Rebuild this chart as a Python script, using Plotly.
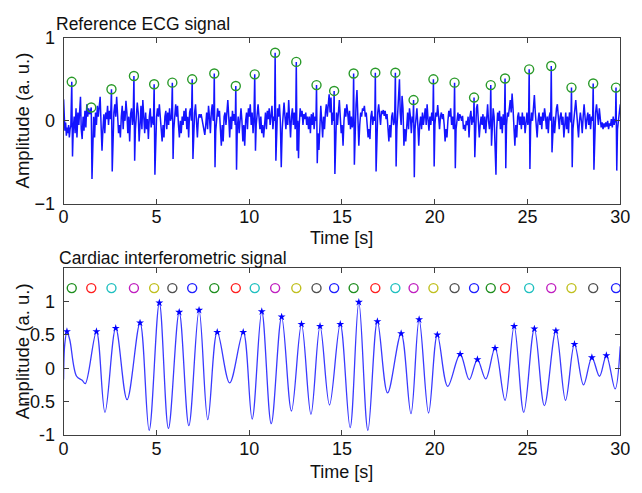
import plotly.graph_objects as go

# ---------------- data ----------------
# ECG R-peak times (s) and amplitudes (a.u.)
peak_time = [0.44, 1.49, 2.58, 3.79, 4.88, 5.86, 6.93, 8.12, 9.28, 10.30, 11.40, 12.54, 13.63,
             14.58, 15.63, 16.80, 17.88, 18.86, 19.93, 21.07, 22.12, 23.02, 23.79, 25.09,
             26.28, 27.37, 28.54, 29.77]
peak_amp = [0.47, 0.16, 0.38, 0.54, 0.44, 0.46, 0.50, 0.57, 0.42, 0.56, 0.82, 0.71, 0.43,
            0.36, 0.57, 0.58, 0.58, 0.25, 0.50, 0.46, 0.28, 0.43, 0.51, 0.62,
            0.66, 0.40, 0.45, 0.40]

# ECG trace, one row per beat segment
ecg_time_seg = [
    [0.00, 0.03, 0.07, 0.11, 0.15, 0.19, 0.23, 0.27, 0.31, 0.35, 0.39],
    [0.44, 0.48, 0.52, 0.57, 0.62, 0.67, 0.72, 0.77, 0.82, 0.87, 0.91, 0.95, 1.00, 1.05, 1.10, 1.15, 1.20, 1.25, 1.30, 1.35, 1.40, 1.45],
    [1.49, 1.53, 1.57, 1.62, 1.67, 1.72, 1.77, 1.82, 1.87, 1.92, 1.97, 2.02, 2.07, 2.12, 2.17, 2.22, 2.27, 2.32, 2.37, 2.42, 2.47, 2.53],
    [2.58, 2.62, 2.66, 2.71, 2.76, 2.81, 2.86, 2.91, 2.96, 3.01, 3.06, 3.11, 3.16, 3.21, 3.26, 3.31, 3.36, 3.41, 3.46, 3.51, 3.56, 3.61, 3.66, 3.71, 3.75],
    [3.79, 3.83, 3.87, 3.92, 3.97, 4.02, 4.07, 4.12, 4.17, 4.22, 4.27, 4.32, 4.37, 4.42, 4.47, 4.52, 4.57, 4.62, 4.67, 4.72, 4.77, 4.84],
    [4.88, 4.92, 4.96, 5.01, 5.06, 5.11, 5.16, 5.21, 5.26, 5.31, 5.36, 5.41, 5.46, 5.51, 5.56, 5.61, 5.66, 5.71, 5.76, 5.82],
    [5.86, 5.90, 5.94, 5.99, 6.04, 6.09, 6.14, 6.19, 6.24, 6.29, 6.34, 6.39, 6.44, 6.49, 6.54, 6.59, 6.64, 6.69, 6.74, 6.79, 6.84, 6.89],
    [6.93, 6.97, 7.01, 7.06, 7.11, 7.16, 7.21, 7.26, 7.31, 7.36, 7.41, 7.46, 7.51, 7.56, 7.61, 7.66, 7.71, 7.76, 7.81, 7.86, 7.91, 7.96, 8.01, 8.06, 8.09],
    [8.12, 8.16, 8.20, 8.25, 8.30, 8.35, 8.40, 8.45, 8.50, 8.55, 8.60, 8.65, 8.70, 8.75, 8.80, 8.85, 8.90, 8.95, 9.00, 9.05, 9.10, 9.15, 9.20, 9.25],
    [9.28, 9.32, 9.36, 9.41, 9.46, 9.51, 9.56, 9.61, 9.66, 9.71, 9.76, 9.81, 9.86, 9.91, 9.96, 10.01, 10.06, 10.11, 10.16, 10.21, 10.26],
    [10.30, 10.34, 10.38, 10.43, 10.48, 10.53, 10.58, 10.63, 10.68, 10.73, 10.78, 10.83, 10.88, 10.93, 10.98, 11.03, 11.08, 11.13, 11.18, 11.23, 11.28, 11.33, 11.37],
    [11.40, 11.44, 11.48, 11.53, 11.58, 11.63, 11.68, 11.73, 11.78, 11.83, 11.88, 11.93, 11.98, 12.03, 12.08, 12.13, 12.18, 12.23, 12.28, 12.33, 12.38, 12.43, 12.48, 12.51],
    [12.54, 12.58, 12.62, 12.66, 12.70, 12.75, 12.80, 12.85, 12.90, 12.95, 13.00, 13.05, 13.10, 13.15, 13.20, 13.25, 13.30, 13.35, 13.40, 13.45, 13.50, 13.55, 13.60],
    [13.63, 13.67, 13.71, 13.76, 13.81, 13.86, 13.91, 13.96, 14.01, 14.06, 14.11, 14.16, 14.21, 14.26, 14.31, 14.36, 14.41, 14.46, 14.51, 14.55],
    [14.58, 14.62, 14.66, 14.71, 14.76, 14.81, 14.86, 14.91, 14.96, 15.01, 15.06, 15.11, 15.16, 15.21, 15.26, 15.31, 15.36, 15.41, 15.46, 15.51, 15.56, 15.60],
    [15.63, 15.67, 15.71, 15.76, 15.81, 15.86, 15.91, 15.96, 16.01, 16.06, 16.11, 16.16, 16.21, 16.26, 16.31, 16.36, 16.41, 16.46, 16.51, 16.56, 16.61, 16.66, 16.71, 16.77],
    [16.80, 16.84, 16.88, 16.93, 16.98, 17.03, 17.08, 17.13, 17.18, 17.23, 17.28, 17.33, 17.38, 17.43, 17.48, 17.53, 17.58, 17.63, 17.68, 17.73, 17.78, 17.84],
    [17.88, 17.92, 17.96, 18.01, 18.06, 18.10, 18.14, 18.19, 18.24, 18.29, 18.34, 18.39, 18.44, 18.49, 18.54, 18.59, 18.64, 18.69, 18.74, 18.79, 18.83],
    [18.86, 18.90, 18.94, 18.99, 19.04, 19.09, 19.14, 19.19, 19.24, 19.29, 19.34, 19.39, 19.44, 19.49, 19.54, 19.59, 19.64, 19.69, 19.74, 19.79, 19.84, 19.90],
    [19.93, 19.97, 20.01, 20.06, 20.11, 20.16, 20.21, 20.26, 20.31, 20.36, 20.41, 20.46, 20.51, 20.56, 20.61, 20.66, 20.71, 20.76, 20.81, 20.86, 20.91, 20.96, 21.01, 21.04],
    [21.07, 21.11, 21.15, 21.20, 21.25, 21.30, 21.35, 21.40, 21.45, 21.50, 21.55, 21.60, 21.65, 21.70, 21.75, 21.80, 21.85, 21.90, 21.95, 22.00, 22.05, 22.09],
    [22.12, 22.16, 22.20, 22.25, 22.30, 22.35, 22.40, 22.45, 22.50, 22.55, 22.60, 22.65, 22.70, 22.75, 22.80, 22.85, 22.90, 22.95, 22.99],
    [23.02, 23.06, 23.10, 23.15, 23.20, 23.25, 23.30, 23.34, 23.39, 23.44, 23.49, 23.54, 23.59, 23.64, 23.69, 23.73, 23.76],
    [23.79, 23.83, 23.87, 23.92, 23.97, 24.02, 24.07, 24.12, 24.17, 24.22, 24.27, 24.32, 24.37, 24.42, 24.47, 24.52, 24.57, 24.62, 24.67, 24.72, 24.77, 24.82, 24.87, 24.92, 24.97, 25.02, 25.06],
    [25.09, 25.13, 25.17, 25.22, 25.27, 25.32, 25.37, 25.42, 25.47, 25.52, 25.57, 25.62, 25.67, 25.72, 25.77, 25.82, 25.87, 25.92, 25.97, 26.02, 26.07, 26.12, 26.17, 26.22, 26.25],
    [26.28, 26.32, 26.36, 26.41, 26.46, 26.51, 26.56, 26.61, 26.66, 26.71, 26.76, 26.81, 26.86, 26.91, 26.96, 27.01, 27.06, 27.11, 27.16, 27.21, 27.26, 27.31, 27.34],
    [27.37, 27.41, 27.45, 27.50, 27.55, 27.60, 27.65, 27.70, 27.75, 27.80, 27.85, 27.90, 27.95, 28.00, 28.05, 28.10, 28.15, 28.20, 28.25, 28.30, 28.35, 28.40, 28.45, 28.51],
    [28.54, 28.58, 28.62, 28.67, 28.72, 28.77, 28.82, 28.87, 28.92, 28.97, 29.02, 29.07, 29.12, 29.17, 29.22, 29.27, 29.32, 29.37, 29.42, 29.47, 29.52, 29.57, 29.62, 29.67, 29.71, 29.74],
    [29.77, 29.81, 29.85, 29.90, 29.95, 30.00],
]
ecg_amp_seg = [
    [0.26, -0.05, -0.12, -0.02, -0.18, -0.08, -0.15, -0.05, -0.20, -0.10, -0.06],
    [0.47, -0.43, -0.10, 0.05, -0.15, 0.15, -0.20, 0.10, -0.05, 0.22, 0.29, -0.10, -0.22, 0.05, -0.12, 0.12, -0.08, 0.20, 0.05, 0.15, 0.08, 0.12],
    [0.16, -0.70, -0.15, 0.05, -0.20, 0.10, -0.05, 0.18, 0.05, 0.22, 0.29, -0.05, -0.36, -0.10, 0.08, -0.15, 0.10, 0.02, 0.18, -0.05, 0.12, 0.02],
    [0.38, -0.61, -0.10, 0.10, 0.20, 0.05, 0.29, 0.10, -0.15, -0.05, -0.20, 0.05, 0.18, -0.10, 0.12, 0.00, 0.24, 0.10, -0.15, 0.05, -0.25, 0.08, 0.15, -0.05, 0.05],
    [0.54, -0.48, -0.10, 0.05, 0.22, 0.10, -0.25, -0.05, 0.18, -0.10, 0.25, 0.05, -0.15, 0.10, -0.10, 0.02, -0.22, 0.05, 0.15, -0.08, 0.05, -0.05],
    [0.44, -0.65, -0.15, 0.05, 0.15, 0.05, 0.20, 0.08, -0.10, -0.25, -0.05, -0.20, 0.05, 0.12, -0.10, 0.10, -0.05, 0.15, 0.00, 0.05],
    [0.46, -0.46, -0.10, 0.08, 0.20, 0.05, 0.18, -0.05, -0.20, 0.00, -0.15, 0.05, -0.05, 0.12, 0.00, 0.15, -0.10, 0.05, -0.20, 0.10, 0.15, 0.00],
    [0.50, -0.46, -0.10, 0.10, 0.20, 0.05, -0.20, 0.02, 0.08, 0.04, 0.08, 0.02, -0.05, -0.15, -0.17, -0.05, 0.10, -0.10, 0.18, 0.05, -0.15, 0.10, 0.20, 0.00, 0.05],
    [0.57, -0.56, -0.12, 0.05, 0.15, 0.05, 0.12, -0.10, -0.30, -0.05, -0.25, 0.05, 0.10, -0.05, 0.15, 0.25, 0.05, -0.20, 0.05, -0.10, 0.12, 0.00, 0.08, -0.05],
    [0.42, -0.59, -0.10, 0.05, -0.15, 0.05, 0.15, 0.00, -0.25, -0.05, -0.30, 0.00, 0.10, -0.10, 0.15, 0.05, 0.20, -0.05, 0.10, -0.15, 0.05],
    [0.56, -0.36, -0.05, 0.10, 0.20, 0.05, -0.10, 0.05, -0.15, -0.05, -0.20, -0.05, 0.10, -0.10, 0.12, 0.02, 0.15, -0.05, 0.10, 0.18, -0.10, 0.05, 0.00],
    [0.82, -0.48, -0.05, 0.15, 0.05, 0.20, 0.00, -0.56, -0.10, 0.10, 0.22, 0.05, -0.10, 0.10, -0.05, 0.25, 0.05, -0.20, 0.05, 0.15, -0.05, 0.10, -0.10, 0.00],
    [0.71, -0.36, 0.00, -0.45, -0.05, 0.15, 0.05, 0.12, -0.05, 0.08, 0.02, 0.10, -0.05, 0.05, -0.10, 0.05, -0.15, 0.08, -0.05, 0.10, -0.10, 0.05, 0.00],
    [0.43, -0.51, -0.15, -0.35, 0.05, 0.18, 0.00, -0.20, 0.05, -0.10, 0.10, 0.20, 0.05, 0.25, 0.32, 0.10, 0.28, -0.05, 0.10, 0.00],
    [0.36, -0.64, -0.10, 0.10, -0.05, 0.15, 0.25, 0.05, -0.15, -0.05, -0.30, 0.00, 0.15, 0.05, 0.20, 0.10, -0.05, 0.12, -0.10, 0.05, -0.08, 0.00],
    [0.57, -0.53, -0.05, 0.20, 0.37, 0.05, -0.30, -0.05, 0.10, 0.05, 0.15, 0.12, 0.18, 0.05, 0.10, -0.05, -0.20, -0.10, -0.22, 0.05, 0.12, -0.05, 0.05, 0.00],
    [0.58, -0.61, -0.10, 0.10, 0.20, 0.05, -0.05, 0.12, 0.08, 0.13, 0.06, 0.12, 0.02, 0.08, -0.10, -0.25, -0.05, -0.20, 0.05, 0.10, -0.05, 0.00],
    [0.58, -0.55, -0.10, 0.10, 0.30, 0.50, 0.10, -0.05, 0.30, 0.15, -0.30, -0.10, -0.25, 0.00, 0.10, -0.10, 0.15, 0.05, -0.15, 0.05, -0.02],
    [0.25, -0.68, -0.10, 0.05, 0.15, -0.05, -0.30, -0.05, 0.05, -0.10, 0.10, -0.05, 0.05, 0.15, -0.05, 0.20, 0.02, -0.12, 0.05, -0.05, 0.10, 0.00],
    [0.50, -0.55, -0.05, 0.10, 0.05, 0.19, 0.05, -0.10, 0.05, 0.10, 0.02, 0.08, -0.05, -0.25, -0.10, -0.20, 0.00, 0.12, 0.05, 0.15, -0.05, 0.05, -0.10, 0.00],
    [0.46, -0.57, -0.10, 0.05, 0.10, 0.00, 0.08, 0.05, 0.00, 0.06, -0.10, -0.05, -0.12, 0.00, -0.05, 0.05, -0.20, 0.05, 0.12, -0.05, 0.05, -0.02],
    [0.28, -0.44, -0.05, 0.15, 0.20, 0.05, -0.20, -0.05, 0.05, -0.05, 0.08, -0.10, 0.05, -0.15, 0.10, 0.20, 0.00, -0.10, 0.00],
    [0.43, -0.30, 0.00, 0.15, 0.05, -0.20, -0.65, -0.10, 0.10, 0.00, 0.12, -0.10, 0.05, -0.15, 0.08, -0.05, 0.02],
    [0.51, -0.57, -0.05, 0.10, 0.05, 0.15, 0.25, 0.10, 0.33, 0.15, -0.05, -0.30, -0.05, -0.20, 0.05, 0.10, -0.05, 0.05, -0.10, 0.10, -0.05, 0.05, -0.15, 0.05, 0.10, -0.05, 0.05],
    [0.62, -0.58, -0.05, 0.10, 0.00, 0.15, 0.31, 0.10, -0.05, -0.20, 0.00, 0.10, -0.05, 0.05, -0.10, 0.10, 0.00, 0.15, 0.05, -0.10, 0.05, -0.15, 0.05, 0.10, 0.00],
    [0.66, -0.38, -0.05, 0.05, -0.15, 0.05, 0.15, 0.20, 0.05, -0.10, 0.05, 0.10, -0.05, 0.05, -0.20, 0.00, 0.10, -0.10, 0.05, -0.15, 0.10, 0.05, -0.02],
    [0.40, -0.56, -0.10, 0.05, 0.15, 0.25, 0.10, -0.05, -0.20, 0.00, 0.10, 0.00, -0.15, 0.05, 0.20, 0.05, -0.10, 0.02, 0.10, -0.05, 0.08, -0.10, 0.05, 0.00],
    [0.45, -0.59, -0.05, 0.10, 0.20, 0.05, -0.05, 0.15, 0.00, -0.08, -0.02, -0.10, -0.03, -0.08, -0.02, -0.07, 0.00, -0.10, -0.03, -0.06, 0.02, -0.08, 0.05, -0.05, 0.02, -0.02],
    [0.40, -0.60, -0.10, 0.05, 0.10, 0.20],
]

# Cardiac interferometric signal: turning points (s, a.u.)
ifm_time = [0.00, 0.06, 0.18, 0.33, 0.70, 1.00, 1.17, 1.77, 2.23, 2.81, 3.42, 4.12, 4.61,
            5.16, 5.65, 6.23, 6.75, 7.30, 7.77, 8.28, 8.95, 9.68, 10.16, 10.68, 11.19,
            11.75, 12.28, 12.82, 13.33, 13.82, 14.33, 14.91, 15.44, 15.91, 16.40, 16.91,
            17.46, 18.19, 18.72, 19.16, 19.67, 20.14, 20.70, 21.37, 21.86, 22.30, 22.75,
            23.25, 23.79, 24.28, 24.80, 25.37, 25.91, 26.53, 27.05, 27.53, 28.02, 28.47,
            28.88, 29.25, 29.72, 30.00]
ifm_amp = [-0.17, 0.35, 0.55, 0.43, -0.12, -0.18, -0.23, 0.55, -0.66, 0.60, -0.47, 0.68, -0.93,
           0.98, -0.90, 0.84, -0.86, 0.87, -0.77, 0.54, -0.22, 0.54, -0.76, 0.85, -0.83,
           0.77, -0.64, 0.66, -0.69, 0.63, -0.55, 0.66, -0.89, 0.99, -0.93, 0.70,
           -0.37, 0.52, -0.68, 0.73, -0.67, 0.50, -0.27, 0.21, -0.17, 0.13, -0.16,
           0.30, -0.48, 0.63, -0.66, 0.59, -0.56, 0.56, -0.48, 0.36, -0.25, 0.16,
           -0.12, 0.19, -0.31, 0.33]

# detected interferometric peaks
ifm_peak_time = [0.18, 1.77, 2.81, 4.12, 5.16, 6.23, 7.30, 8.28, 9.68, 10.68, 11.75, 12.82, 13.82,
                 14.91, 15.91, 16.91, 18.19, 19.16, 20.14, 21.37, 22.30, 23.25, 24.28, 25.37,
                 26.53, 27.53, 28.47, 29.25]
ifm_peak_amp = [0.55, 0.55, 0.60, 0.68, 0.98, 0.84, 0.87, 0.54, 0.54, 0.85, 0.77, 0.66, 0.63,
                0.66, 0.99, 0.70, 0.52, 0.73, 0.50, 0.21, 0.13, 0.30, 0.63, 0.59,
                0.56, 0.36, 0.16, 0.19]

marker_level = 1.2  # row of reference-beat markers in the lower panel

x_ticks = [0, 5, 10, 15, 20, 25, 30]
top_y_ticks = [-1, 0, 1]
bot_y_ticks = [-1, -0.5, 0, 0.5, 1]
bot_y_ticktext = ["-1", "-0.5", "0", "0.5", "1"]

# ---------------- build ----------------
for i, (a, b) in enumerate(zip(ecg_time_seg, ecg_amp_seg)):
    if len(a) != len(b):
        raise ValueError(f"segment {i}: {len(a)} times vs {len(b)} amps")
ecg_time = [t for seg in ecg_time_seg for t in seg]
ecg_amp = [v for seg in ecg_amp_seg for v in seg]

palette = ["#1f8f1f", "#ff2020", "#20c0c0", "#c020c0", "#c0c020", "#505050", "#2020ff"]
circle_colors = [palette[i % len(palette)] for i in range(len(peak_time))]

W, H = 642, 493
L, R = 60, 630
T1, B1 = 29, 202
T2, B2 = 269, 443

def px(v):
    return v / W

def py(v):
    return 1 - v / H

FONT = "Liberation Sans, Arial, Helvetica, sans-serif"
AX = "#404040"

fig = go.Figure()
fig.add_trace(go.Scatter(x=ecg_time, y=ecg_amp, mode="lines",
                         line=dict(color="#1414ff", width=1.5), xaxis="x", yaxis="y"))
fig.add_trace(go.Scatter(x=peak_time, y=peak_amp, mode="markers",
                         marker=dict(symbol="circle-open", size=9, color="#2a9a2a",
                                     line=dict(width=1.4, color="#2a9a2a")),
                         xaxis="x", yaxis="y"))
fig.add_trace(go.Scatter(x=ifm_time, y=ifm_amp, mode="lines",
                         line=dict(color="#3a3aff", width=1.3, shape="spline", smoothing=1.0),
                         xaxis="x2", yaxis="y2"))
fig.add_trace(go.Scatter(x=ifm_peak_time, y=ifm_peak_amp, mode="markers",
                         marker=dict(symbol="star", size=6, color="#0000ff"),
                         xaxis="x2", yaxis="y2"))
fig.add_trace(go.Scatter(x=peak_time, y=[marker_level] * len(peak_time), mode="markers",
                         marker=dict(symbol="circle-open", size=9, color=circle_colors,
                                     line=dict(width=1.4, color=circle_colors)),
                         xaxis="x2", yaxis="y2"))

axis_common = dict(showline=True, linecolor=AX, linewidth=1, mirror="ticks",
                   ticks="inside", ticklen=5, tickcolor=AX, showgrid=False, zeroline=False,
                   tickfont=dict(family=FONT, size=18, color="#111"))

fig.update_layout(
    width=W, height=H, margin=dict(l=0, r=0, t=0, b=0),
    paper_bgcolor="white", plot_bgcolor="white", showlegend=False,
    xaxis=dict(domain=[px(L), px(R)], range=[0, 30], tickvals=x_ticks, anchor="y",
               ticklabelstandoff=-3, **axis_common),
    yaxis=dict(domain=[py(B1), py(T1)], range=[-1, 1], tickvals=top_y_ticks, anchor="x",
               ticklabelstandoff=4, **axis_common),
    xaxis2=dict(domain=[px(L), px(R)], range=[0, 30], tickvals=x_ticks, anchor="y2",
                ticklabelstandoff=-3, **axis_common),
    yaxis2=dict(domain=[py(B2), py(T2)], range=[-1, 1.5], tickvals=bot_y_ticks,
                ticktext=bot_y_ticktext, anchor="x2", ticklabelstandoff=4, **axis_common),
)

def note(text, x, y, size, xanchor="center", angle=0):
    fig.add_annotation(text=text, x=px(x), y=py(y), xref="paper", yref="paper",
                       xanchor=xanchor, yanchor="middle", showarrow=False, textangle=angle,
                       font=dict(family=FONT, size=size, color="#111"))

note("Reference ECG signal", 50, 15, 17.5, xanchor="left")
note("Cardiac interferometric signal", 53, 258, 17.5, xanchor="left")
note("Time [s]", 345, 238, 18)
note("Time [s]", 345, 482, 18)
note("Amplitude (a. u.)", 18, (T1 + B1) / 2, 18.5, angle=-90)
note("Amplitude (a. u.)", 18, (T2 + B2) / 2, 18.5, angle=-90)

fig.write_html("out.html", config={"displayModeBar": False},
               post_script="document.body.style.margin='0';document.body.style.overflow='hidden';")
